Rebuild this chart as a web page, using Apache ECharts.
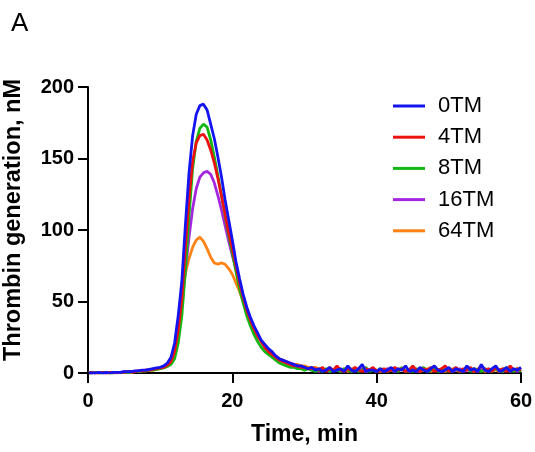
<!DOCTYPE html>
<html>
<head>
<meta charset="utf-8">
<script src="https://cdn.jsdelivr.net/npm/echarts@6/dist/echarts.min.js"></script>
<style>html,body{margin:0;padding:0;background:#fff}#c{width:535px;height:452px}</style>
</head>
<body>
<div id="c"></div>
<script>
const timeMin = [0,0.5,1,1.5,2,2.5,3,3.5,4,4.5,5,5.5,6,6.5,7,7.5,8,8.5,9,9.5,10,10.5,11,11.5,12,12.5,13,13.5,14,14.5,15,15.5,16,16.5,17,17.5,18,18.5,19,19.5,20,20.5,21,21.5,22,22.5,23,23.5,24,24.5,25,25.5,26,26.5,27,27.5,28,28.5,29,29.5,30,30.5,31,31.5,32,32.5,33,33.5,34,34.5,35,35.5,36,36.5,37,37.5,38,38.5,39,39.5,40,40.5,41,41.5,42,42.5,43,43.5,44,44.5,45,45.5,46,46.5,47,47.5,48,48.5,49,49.5,50,50.5,51,51.5,52,52.5,53,53.5,54,54.5,55,55.5,56,56.5,57,57.5,58,58.5,59,59.5,60];

const tm0 = [0,0,0,0.5,0,0.5,0,0.5,0.5,0.5,1,1,1,1.5,1.5,2,2,
  2.5,3,3.5,4,5,7,11,21,40,64,104,140,166,181,187,188,184,174,164,151,137,121,107,93,78,66,55,46,39,33,28,23,20,17,15,12,10,9,8,7,6,5,5,4,3,4,
  2,3,1,2,4,1,2,3,1,5,2,1,3,6,1,2,2,1,3,1,2,4,1,3,2,5,1,2,1,4,2,1,3,5,2,1,2,4,1,3,2,1,5,2,3,1,6,2,1,3,5,1,2,4,1,3,2,4];
const tm4 = [0,0.5,0,0,0.5,0,0.5,0.5,0,0.5,0.5,1,1,1,1.5,1.5,2,
  2,2.5,3,3.5,4,5.5,8,15,30,52,88,122,148,161,166,167,163,156,147,136,124,111,98,87,75,63,53,44,37,31,26,22,18,15,13,11,9,8,7,6,5,5,4,4,3,3,
  3,2,4,1,3,2,5,2,1,3,2,4,2,1,3,2,4,1,2,3,1,2,4,2,3,1,2,5,2,1,3,2,4,1,2,3,5,1,2,4,1,3,2,4,1,2,5,2,3,1,4,2,3,1,5,2,3,2];
const tm8 = [0,0,0.5,0,0,0.5,0,0,0.5,0.5,0.5,0.5,1,1,1,1.5,1.5,
  2,2,2.5,3,3.5,4.5,6,10,21,40,72,110,143,162,171,174,172,163,151,138,124,110,96,84,71,59,49,40,33,27,22,18,15,13,11,9,7,6,5,4,4,3,3,2,3,2,
  1,2,1,3,1,2,2,1,3,2,1,3,1,2,4,1,2,1,3,2,1,2,3,1,4,1,2,1,3,2,4,1,2,3,1,2,4,1,2,3,1,2,4,1,3,2,1,3,2,1,3,2,1,4,2,1,3,1];
const tm16 = [0,0.5,0,0.5,0,0,0.5,0,0.5,0.5,1,0.5,1,1,1.5,1.5,2,
  2,2.5,3,3.5,4,5,7.5,13,26,46,72,95,115,129,137,140,141,139,133,124,114,103,92,82,73,63,54,45,37,31,26,22,18,15,13,11,9,8,7,6,5,4,4,3,3,2,
  2,1,3,2,1,2,3,1,2,3,1,2,2,3,1,2,3,1,2,1,3,2,1,2,3,1,2,4,1,2,3,1,2,3,2,1,3,2,1,2,3,1,2,2,3,1,2,3,1,2,3,2,1,2,3,2,1,2];
const tm64 = [0,0,0.5,0,0.5,0,0,0.5,0.5,0,0.5,1,0.5,1,1,1.5,1.5,
  2,2,2.5,3,4,5,7.5,14,30,55,70,80,88,93,95,92,87,81,77,76,77,76,73,69,63,57,50,44,37,32,26,22,19,16,14,12,10,9,8,7,6,6,5,5,4,4,
  4,3,3,2,4,2,3,2,3,1,3,2,2,3,1,2,3,2,1,2,3,2,1,3,2,2,1,3,2,1,2,3,1,2,2,3,1,2,3,2,1,2,3,2,1,3,2,1,2,3,2,1,3,2,1,2,3,2];

const seriesNames = ['0TM','4TM','8TM','16TM','64TM'];
const seriesColors = ['#1414f0','#ee1111','#14b814','#a526e0','#ff8214'];
const seriesValues = [tm0, tm4, tm8, tm16, tm64];
const xTicks = [0,20,40,60];
const yTicks = [0,50,100,150,200];

const FONT = 'Liberation Sans, Arial, Helvetica, sans-serif';
const chart = echarts.init(document.getElementById('c'), null, {renderer:'canvas'});

const series = [];
for (let k = seriesNames.length - 1; k >= 0; k--) {
  series.push({
    name: seriesNames[k], type: 'line', symbol: 'none', showSymbol: false,
    data: timeMin.map((t, i) => [t, seriesValues[k][i]]),
    lineStyle: {color: seriesColors[k], width: 2.8},
    itemStyle: {color: seriesColors[k]},
    z: 2 + (seriesNames.length - k), animation: false
  });
}

chart.setOption({
  animation: false,
  title: {text: 'A', left: 6, top: 6, textStyle: {fontFamily: FONT, fontSize: 26, fontWeight: 'normal', color: '#000'}},
  grid: {left: 88, right: 14, top: 87, bottom: 79, containLabel: false, outerBoundsMode: 'none'},
  legend: {
    data: seriesNames, orient: 'vertical', left: 388, top: 90, icon: 'rect',
    itemWidth: 32, itemHeight: 3, itemGap: 9.2,
    textStyle: {fontFamily: FONT, fontSize: 22, color: '#000', padding: [0,0,0,8]}
  },
  xAxis: {
    type: 'value', min: xTicks[0], max: xTicks[xTicks.length-1], interval: 20,
    name: 'Time, min', nameLocation: 'middle', nameGap: 50,
    nameTextStyle: {fontFamily: FONT, fontSize: 23, fontWeight: 'bold', color: '#000'},
    axisLine: {show: true, lineStyle: {color: '#000', width: 2}},
    axisTick: {show: true, length: 10, lineStyle: {color: '#000', width: 2}},
    axisLabel: {fontFamily: FONT, fontSize: 20, fontWeight: 'bold', color: '#000', margin: 18},
    splitLine: {show: false}
  },
  yAxis: {
    type: 'value', min: yTicks[0], max: yTicks[yTicks.length-1], interval: 50,
    name: 'Thrombin generation, nM', nameLocation: 'middle', nameGap: 62, nameRotate: 90,
    nameTextStyle: {fontFamily: FONT, fontSize: 23.5, fontWeight: 'bold', color: '#000', padding: [0,0,0,20]},
    axisLine: {show: true, lineStyle: {color: '#000', width: 2}},
    axisTick: {show: true, length: 10, lineStyle: {color: '#000', width: 2}},
    axisLabel: {fontFamily: FONT, fontSize: 20, fontWeight: 'bold', color: '#000', margin: 14},
    splitLine: {show: false}
  },
  graphic: [{type: 'line', shape: {x1: 88, y1: 372, x2: 88, y2: 383}, style: {stroke: '#000', lineWidth: 2}, z: 100}],
  series: series
});
</script>
</body>
</html>
